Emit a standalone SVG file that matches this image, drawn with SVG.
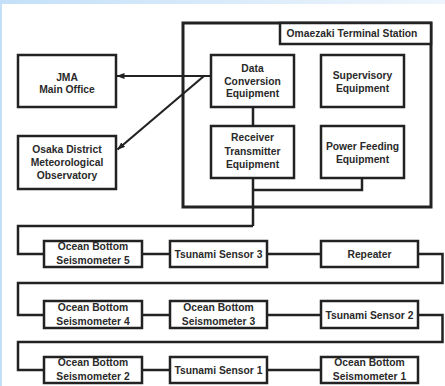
<svg xmlns="http://www.w3.org/2000/svg" width="445" height="386" viewBox="0 0 445 386">
<defs>
<linearGradient id="bg" x1="0" y1="0" x2="1" y2="0">
<stop offset="0" stop-color="#c4e0f8"/>
<stop offset="1" stop-color="#eef5fc"/>
</linearGradient>
<marker id="arr" viewBox="0 0 8 6" refX="7.5" refY="3" markerWidth="8" markerHeight="6" markerUnits="userSpaceOnUse" orient="auto">
<path d="M0,0 L8,3 L0,6 Z" fill="#222"/>
</marker>
<style>
.box{fill:#fff;stroke:#222;stroke-width:2.5}
.frame{fill:none;stroke:#222;stroke-width:3}
.ln{fill:none;stroke:#222;stroke-width:2.5}
.arrow{fill:none;stroke:#222;stroke-width:2.2}
text{font-family:"Liberation Sans",Arial,sans-serif;font-weight:bold;font-size:10.3px;fill:#2a2a2a;text-anchor:middle}
</style>
</defs>
<rect x="0" y="0" width="445" height="386" fill="url(#bg)"/>
<rect x="2" y="4" width="443" height="382" fill="#fff"/>

<g id="terminal-station">
<rect class="frame" x="183" y="23" width="248" height="184"/>
<rect class="box" x="280" y="23" width="151" height="21"/>
<text x="352" y="37">Omaezaki Terminal Station</text>
</g>

<g id="connectors">
<line class="ln" x1="253" y1="107" x2="253" y2="126"/>
<line class="ln" x1="253" y1="178" x2="253" y2="226"/>
<polyline class="ln" points="362,178 362,190 253,190"/>
<polyline class="ln" points="253,226 18,226 18,254 44,254"/>
<line class="ln" x1="142" y1="254" x2="170" y2="254"/>
<line class="ln" x1="267" y1="254" x2="321" y2="254"/>
<polyline class="ln" points="418,254 442.5,254 442.5,283 18,283 18,315 44,315"/>
<line class="ln" x1="142" y1="315" x2="170" y2="315"/>
<line class="ln" x1="267" y1="315" x2="321" y2="315"/>
<polyline class="ln" points="418,315 442.5,315 442.5,342 18,342 18,370 44,370"/>
<line class="ln" x1="142" y1="370" x2="170" y2="370"/>
<line class="ln" x1="267" y1="370" x2="321" y2="370"/>
<line class="arrow" x1="210" y1="76" x2="117" y2="76" marker-end="url(#arr)"/>
<line class="arrow" x1="204" y1="76" x2="117.5" y2="149.5" marker-end="url(#arr)"/>
</g>

<g id="jma">
<rect class="box" x="18" y="55" width="98" height="52"/>
<text x="67" y="80.5">JMA</text>
<text x="67" y="92.5">Main Office</text>
</g>
<g id="osaka">
<rect class="box" x="18" y="136" width="98" height="53"/>
<text x="67" y="152.5">Osaka District</text>
<text x="67" y="165.5">Meteorological</text>
<text x="67" y="178.5">Observatory</text>
</g>

<g id="data-conversion">
<rect class="box" x="211" y="55" width="83" height="52"/>
<text x="252.5" y="71.5">Data</text>
<text x="252.5" y="84.5">Conversion</text>
<text x="252.5" y="97">Equipment</text>
</g>
<g id="supervisory">
<rect class="box" x="321" y="55" width="83" height="52"/>
<text x="362.5" y="78.5">Supervisory</text>
<text x="362.5" y="91.5">Equipment</text>
</g>
<g id="receiver-transmitter">
<rect class="box" x="211" y="126" width="83" height="52"/>
<text x="252.5" y="141">Receiver</text>
<text x="252.5" y="154.5">Transmitter</text>
<text x="252.5" y="168">Equipment</text>
</g>
<g id="power-feeding">
<rect class="box" x="321" y="126" width="83" height="52"/>
<text x="362.5" y="149.5">Power Feeding</text>
<text x="362.5" y="162.5">Equipment</text>
</g>

<g id="obs5">
<rect class="box" x="44" y="241" width="98" height="26"/>
<text x="93" y="250">Ocean Bottom</text>
<text x="93" y="264">Seismometer 5</text>
</g>
<g id="tsunami3">
<rect class="box" x="170" y="241" width="97" height="26"/>
<text x="218.5" y="257.5">Tsunami Sensor 3</text>
</g>
<g id="repeater">
<rect class="box" x="321" y="241" width="97" height="26"/>
<text x="369.5" y="257.5">Repeater</text>
</g>

<g id="obs4">
<rect class="box" x="44" y="301" width="98" height="27"/>
<text x="93" y="310.5">Ocean Bottom</text>
<text x="93" y="324.5">Seismometer 4</text>
</g>
<g id="obs3">
<rect class="box" x="170" y="301" width="97" height="27"/>
<text x="218.5" y="310.5">Ocean Bottom</text>
<text x="218.5" y="324.5">Seismometer 3</text>
</g>
<g id="tsunami2">
<rect class="box" x="321" y="301" width="97" height="27"/>
<text x="369.5" y="318.5">Tsunami Sensor 2</text>
</g>

<g id="obs2">
<rect class="box" x="44" y="357" width="98" height="26"/>
<text x="93" y="366">Ocean Bottom</text>
<text x="93" y="380">Seismometer 2</text>
</g>
<g id="tsunami1">
<rect class="box" x="170" y="357" width="97" height="26"/>
<text x="218.5" y="373.5">Tsunami Sensor 1</text>
</g>
<g id="obs1">
<rect class="box" x="321" y="357" width="97" height="26"/>
<text x="369.5" y="366">Ocean Bottom</text>
<text x="369.5" y="380">Seismometer 1</text>
</g>
</svg>
